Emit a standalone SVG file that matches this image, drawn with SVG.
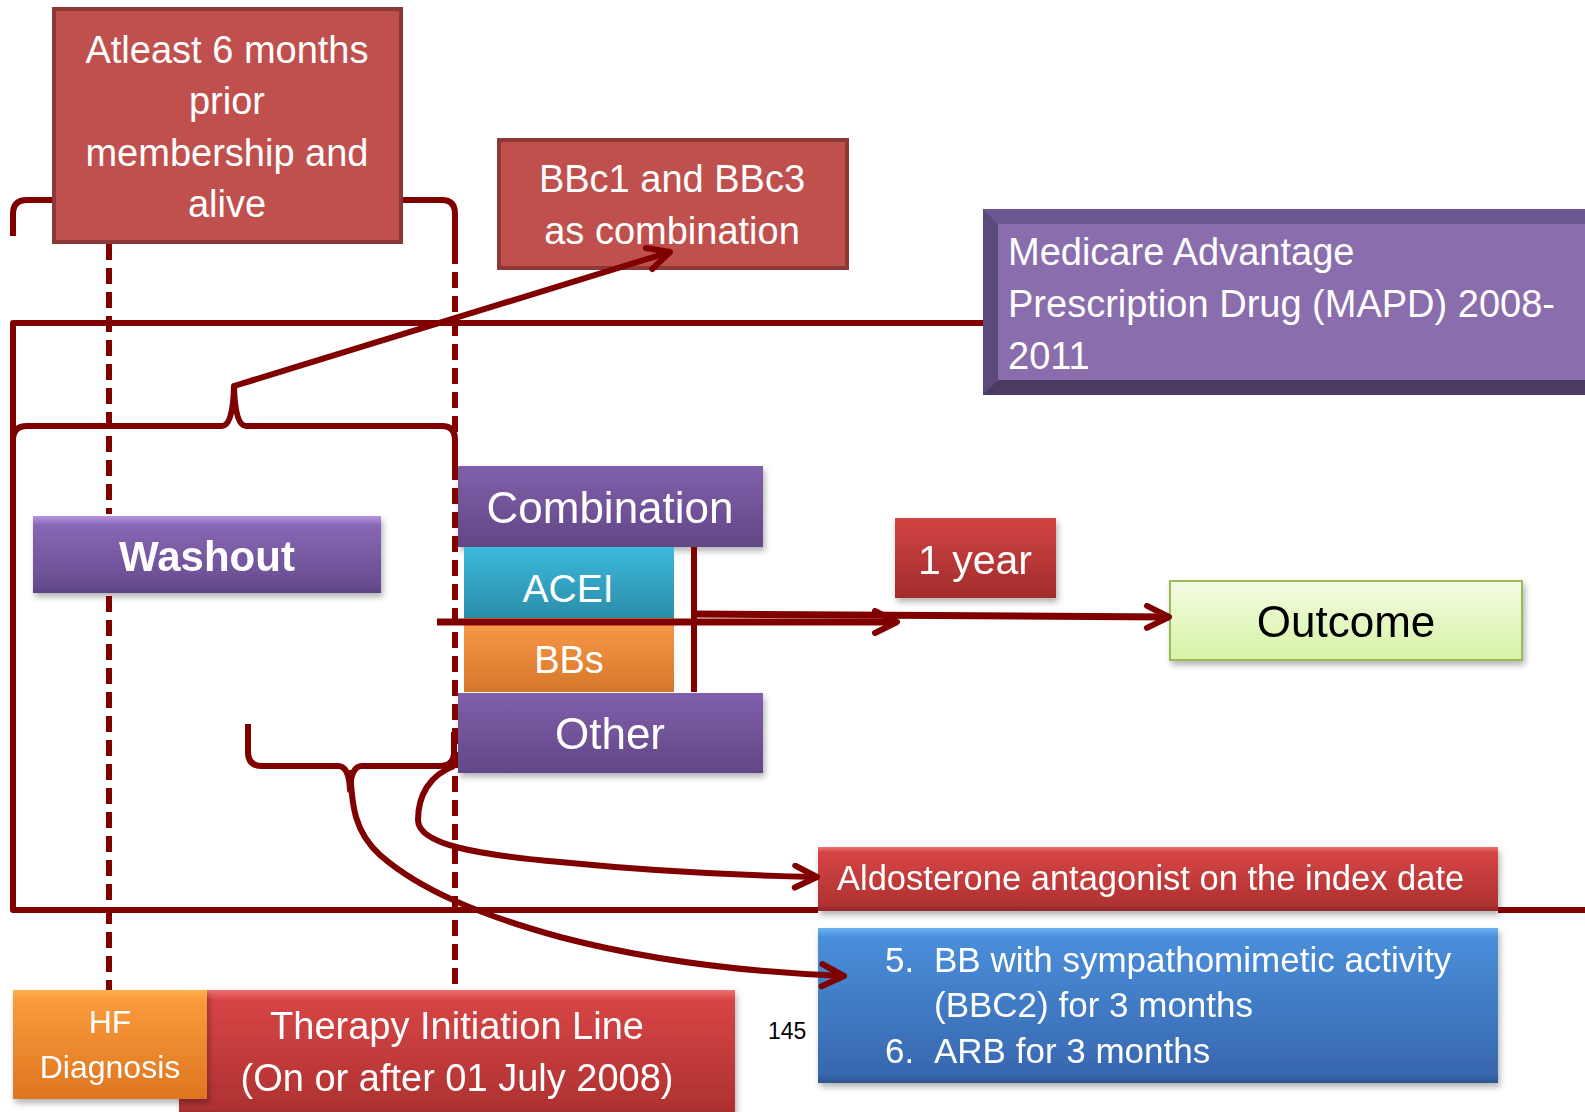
<svg xmlns="http://www.w3.org/2000/svg" width="1585" height="1112" viewBox="0 0 1585 1112">
<defs>
<style>
.t{font-family:"Liberation Sans",Arial,sans-serif;fill:#fff}
.c{text-anchor:middle}
.ln{fill:none;stroke:#800000;stroke-width:6;stroke-linejoin:round}
.dash{fill:none;stroke:#800000;stroke-width:6;stroke-dasharray:16 8}
.ar{fill:none;stroke:#800000;stroke-width:6;marker-end:url(#ah)}
</style>
<marker id="ah" markerUnits="userSpaceOnUse" markerWidth="32" markerHeight="30" refX="26" refY="14" orient="auto" viewBox="0 0 32 30">
<path d="M4,3 L26,14 L4,25" fill="none" stroke="#800000" stroke-width="6" stroke-linecap="round" stroke-linejoin="round"/>
</marker>
<filter id="sh" x="-5%" y="-10%" width="115%" height="140%">
<feDropShadow dx="2" dy="4" stdDeviation="3" flood-color="#000" flood-opacity="0.3"/>
</filter>
<linearGradient id="gP" x1="0" y1="0" x2="0" y2="1"><stop offset="0" stop-color="#8060AB"/><stop offset="1" stop-color="#624786"/></linearGradient>
<linearGradient id="gW" x1="0" y1="0" x2="0" y2="1"><stop offset="0" stop-color="#B596DE"/><stop offset="0.12" stop-color="#8767B4"/><stop offset="0.9" stop-color="#684D90"/><stop offset="1" stop-color="#5A4280"/></linearGradient>
<linearGradient id="gT" x1="0" y1="0" x2="0" y2="1"><stop offset="0" stop-color="#3CB9DB"/><stop offset="1" stop-color="#2A8DA9"/></linearGradient>
<linearGradient id="gO" x1="0" y1="0" x2="0" y2="1"><stop offset="0" stop-color="#FB9A48"/><stop offset="1" stop-color="#D5772B"/></linearGradient>
<linearGradient id="gR" x1="0" y1="0" x2="0" y2="1"><stop offset="0" stop-color="#F07070"/><stop offset="0.08" stop-color="#D64545"/><stop offset="0.9" stop-color="#B03232"/><stop offset="1" stop-color="#8E2828"/></linearGradient>
<linearGradient id="gR2" x1="0" y1="0" x2="0" y2="1"><stop offset="0" stop-color="#D24444"/><stop offset="1" stop-color="#A22C2C"/></linearGradient>
<linearGradient id="gB" x1="0" y1="0" x2="0" y2="1"><stop offset="0" stop-color="#6AB2F2"/><stop offset="0.06" stop-color="#4A8EDA"/><stop offset="0.94" stop-color="#3868B0"/><stop offset="1" stop-color="#2D5590"/></linearGradient>
<linearGradient id="gG" x1="0" y1="0" x2="0" y2="1"><stop offset="0" stop-color="#F4FBE3"/><stop offset="1" stop-color="#D6F3A4"/></linearGradient>
<linearGradient id="gH" x1="0" y1="0" x2="0" y2="1"><stop offset="0" stop-color="#FDB050"/><stop offset="0.1" stop-color="#F99A3C"/><stop offset="1" stop-color="#DE7620"/></linearGradient>
</defs>
<rect width="1585" height="1112" fill="#fff"/>

<g id="n-prior">
<rect x="54" y="9" width="347" height="233" fill="#C0504D" stroke="#8C3836" stroke-width="4"/>
<text class="t c" x="227" y="63" font-size="38">Atleast 6 months</text>
<text class="t c" x="227" y="114" font-size="38">prior</text>
<text class="t c" x="227" y="166" font-size="38">membership and</text>
<text class="t c" x="227" y="217" font-size="38">alive</text>
</g>

<g id="n-bbc">
<rect x="499" y="140" width="348" height="128" fill="#C0504D" stroke="#8C3836" stroke-width="4"/>
<text class="t c" x="672" y="192" font-size="38">BBc1 and BBc3</text>
<text class="t c" x="672" y="244" font-size="38">as combination</text>
</g>

<g id="n-mapd">
<rect x="983" y="209" width="602" height="186" fill="#5D4A7C"/>
<polygon points="983,209 1585,209 1585,224 998,224" fill="#6C5891"/>
<polygon points="983,395 1585,395 1585,380 998,380" fill="#4A3B61"/>
<rect x="998" y="224" width="587" height="156" fill="#8A6DAD"/>
<text class="t" x="1008" y="265" font-size="38">Medicare Advantage</text>
<text class="t" x="1008" y="317" font-size="38">Prescription Drug (MAPD) 2008-</text>
<text class="t" x="1008" y="369" font-size="38">2011</text>
</g>

<g id="n-washout" filter="url(#sh)">
<rect x="33" y="516" width="348" height="77" fill="url(#gW)"/>
<text class="t c" x="207" y="571" font-size="42" font-weight="bold">Washout</text>
</g>

<g id="n-combination" filter="url(#sh)">
<rect x="458" y="466" width="305" height="81" fill="url(#gP)"/>
<text class="t c" x="610" y="523" font-size="44">Combination</text>
</g>

<g id="n-acei">
<rect x="464" y="547" width="210" height="71" fill="url(#gT)"/>
<text class="t c" x="568" y="602" font-size="39">ACEI</text>
</g>

<g id="n-bbs">
<rect x="464" y="618" width="210" height="74" fill="url(#gO)"/>
<text class="t c" x="569" y="673" font-size="38">BBs</text>
</g>

<g id="n-other" filter="url(#sh)">
<rect x="458" y="693" width="305" height="80" fill="url(#gP)"/>
<text class="t c" x="610" y="749" font-size="44">Other</text>
</g>

<g id="n-year" filter="url(#sh)">
<rect x="895" y="518" width="161" height="80" fill="url(#gR2)"/>
<text class="t c" x="975" y="574" font-size="41">1 year</text>
</g>

<g id="n-outcome" filter="url(#sh)">
<rect x="1170" y="581" width="352" height="79" fill="url(#gG)" stroke="#9BBB59" stroke-width="2"/>
<text class="c" x="1346" y="637" font-size="44" font-family="Liberation Sans, Arial, sans-serif" fill="#000">Outcome</text>
</g>

<g id="n-aldosterone" filter="url(#sh)">
<rect x="818" y="847" width="680" height="64" fill="url(#gR)"/>
<text class="t" x="837" y="890" font-size="34.5">Aldosterone antagonist on the index date</text>
</g>

<g id="n-exclusions" filter="url(#sh)">
<rect x="818" y="928" width="680" height="155" fill="url(#gB)"/>
<text class="t" x="885" y="972" font-size="35">5.</text>
<text class="t" x="934" y="972" font-size="35">BB with sympathomimetic activity</text>
<text class="t" x="934" y="1017" font-size="35">(BBC2) for 3 months</text>
<text class="t" x="885" y="1063" font-size="35">6.</text>
<text class="t" x="934" y="1063" font-size="35">ARB for 3 months</text>
</g>

<g id="n-therapy" filter="url(#sh)">
<rect x="179" y="990" width="556" height="130" fill="url(#gR)"/>
<text class="t c" x="457" y="1039" font-size="38">Therapy Initiation Line</text>
<text class="t c" x="457" y="1091" font-size="38">(On or after 01 July 2008)</text>
</g>

<g id="n-hf" filter="url(#sh)">
<rect x="13" y="990" width="194" height="109" fill="url(#gH)"/>
<text class="t c" x="110" y="1033" font-size="32">HF</text>
<text class="t c" x="110" y="1078" font-size="32">Diagnosis</text>
</g>

<text x="768" y="1039" font-size="23" font-family="Liberation Sans, Arial, sans-serif" fill="#000">145</text>

<g id="connectors">
<path class="ln" d="M983,323 L13,323 L13,910 L818,910"/>
<path class="ln" d="M1498,910 L1585,910"/>
<path class="ln" d="M13,236 L13,214 Q13,200 27,200 L52,200"/>
<path class="ln" d="M403,200 L442,200 Q455,200 455,214 L455,248"/>
<path class="dash" d="M109,244 L109,514"/>
<path class="dash" d="M109,596 L109,990"/>
<path class="dash" d="M455,248 L455,990"/>
<path class="ln" d="M13,470 L13,440 Q13,426 27,426 L222,426 Q233,426 234,386 Q235,426 246,426 L442,426 Q455,426 455,440 L455,466"/>
<path class="ln" d="M248,724 L248,752 Q248,766 262,766 L338,766 Q349,766 350,790 Q351,766 362,766 L440,766 Q454,766 454,752 L454,732"/>
<path class="ar" d="M234,386 L670,252"/>
<path class="ln" d="M694,547 L694,692"/>
<path class="ar" style="stroke-width:7" d="M437,622 L897,622"/>
<path class="ar" style="stroke-width:7" d="M694,614 L1169,617"/>
<path class="ar" d="M350,770 C352,800 352,830 380,855 C420,890 480,915 560,937 C640,958 740,972 844,976"/>
<path class="ar" d="M454,766 C430,775 418,795 418,820 C418,845 480,855 560,862 C640,870 720,875 817,877"/>
</g>
</svg>
